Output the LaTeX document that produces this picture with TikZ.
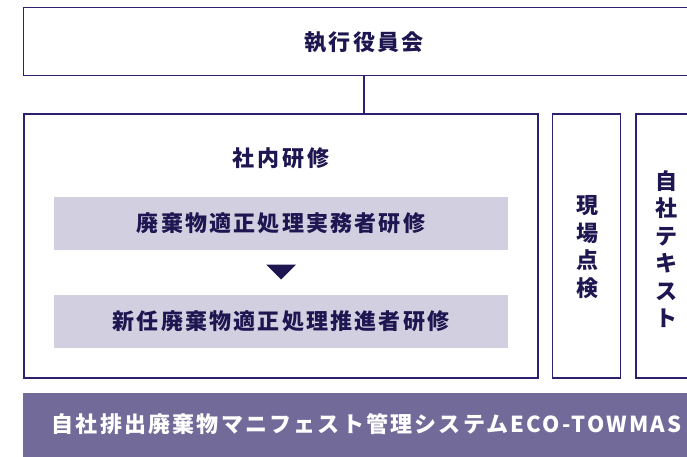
\documentclass[tikz,border=0pt]{standalone}
\usepackage{fontspec}
\setmainfont{Noto Sans CJK JP}[LetterSpace=10]
\newfontfamily\widejp{Noto Sans CJK JP}[LetterSpace=14]
\usetikzlibrary{calc}
\definecolor{navy}{HTML}{2B2170}
\definecolor{inktext}{HTML}{1E1650}
\definecolor{coursefill}{HTML}{D2CFE0}
\definecolor{barfill}{HTML}{726A99}
\tikzset{
  frame/.style={draw=navy, line width=1.5pt, rectangle, inner sep=0pt},
  course/.style={fill=coursefill, rectangle, inner sep=0pt, minimum width=454pt, minimum height=53pt,
    font=\fontsize{22}{26}\selectfont\bfseries, text=inktext},
  label/.style={font=\fontsize{22}{26}\selectfont\bfseries, text=inktext, inner sep=0pt},
  vlabel/.style={font=\fontsize{22}{27.5}\selectfont\bfseries, text=inktext, inner sep=0pt, align=center}
}
\begin{document}
\begin{tikzpicture}[x=1pt, y=-1pt]
		%%%%% START %%%%%
		\useasboundingbox (0, 0) rectangle (687, 457);
		
		% executive board, runs past the right edge
		\node[frame, minimum width=680pt, minimum height=68pt] (board) at (363.5, 41.6) {};
		\node[label] (boardtext) at (364, 42) {執行役員会};
		
		% in-house training
		\node[frame, minimum width=514pt, minimum height=264pt] (training) at (281, 246) {};
		\node[label, font=\fontsize{22}{26}\selectfont\widejp\bfseries] (trainingtext) at (281, 158) {社内研修};
		\coordinate (boardfoot) at (364, 75.7);
		\coordinate (trainingtop) at (364, 114);
		\draw[navy, line width=1.5pt] (boardfoot) -- (trainingtop);
		
		\node[course] (practice) at (281, 223.3) {廃棄物適正処理実務者研修};
		\node[course] (promote) at (281, 321.5) {新任廃棄物適正処理推進者研修};
		\fill[inktext] (266, 264.5) -- (296, 264.5) -- (281, 279.5) -- cycle;
		
		% side boxes
		\node[frame, minimum width=68pt, minimum height=264pt] (inspect) at (586.5, 246) {};
		\node[vlabel] (inspecttext) at (587, 247) {現\\場\\点\\検};
		\node[frame, minimum width=90pt, minimum height=264pt] (textbook) at (681, 246) {};
		\node[vlabel] (textbooktext) at (666, 249) {自\\社\\テ\\キ\\ス\\ト};
		
		% manifest system bar
		\fill[barfill] (23, 392.5) rectangle (700, 457);
		\node[label, text=white, anchor=west] (system) at (51.5, 424.5) {自社排出廃棄物マニフェスト管理システムECO-TOWMAS};
		%%%%% END %%%%%
	\end{tikzpicture}
\end{document}
